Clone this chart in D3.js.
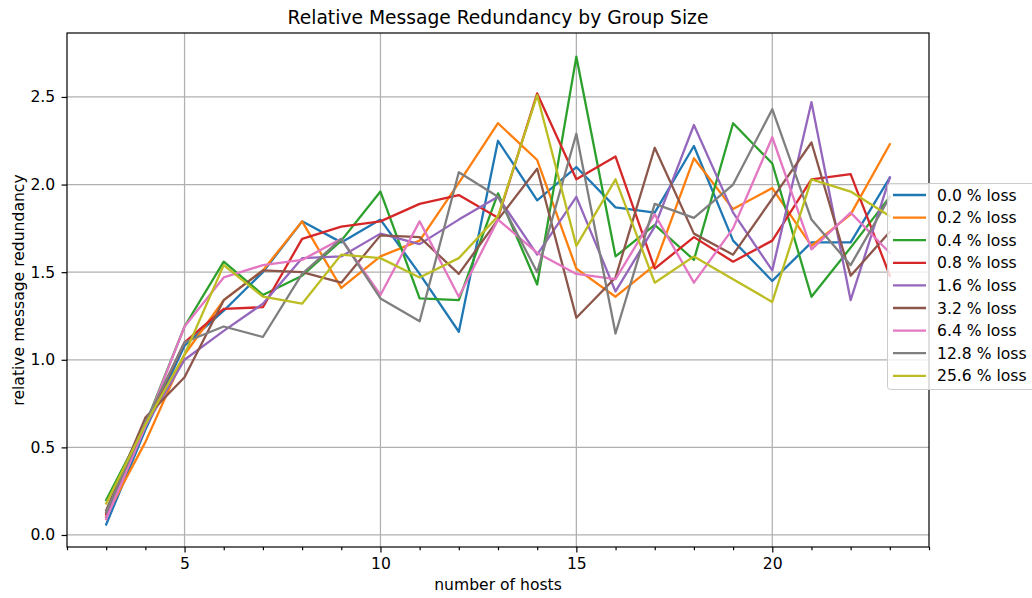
<!DOCTYPE html>
<html><head><meta charset="utf-8">
<script src="https://cdn.jsdelivr.net/npm/d3@7"></script>
<style>body{margin:0;background:#fff;} text{font-family:"DejaVu Sans",sans-serif;fill:#000;}</style>
</head><body>
<svg id="c" width="1032" height="598"></svg>
<script>
const hosts = [3,4,5,6,7,8,9,10,11,12,13,14,15,16,17,18,19,20,21,22,23];
const seriesNames = ["0.0 % loss","0.2 % loss","0.4 % loss","0.8 % loss","1.6 % loss","3.2 % loss","6.4 % loss","12.8 % loss","25.6 % loss"];
const colors = ["#1f77b4","#ff7f0e","#2ca02c","#d62728","#9467bd","#8c564b","#e377c2","#7f7f7f","#bcbd22"];
const loss00  = [0.06,0.60,1.08,1.28,1.50,1.79,1.67,1.80,1.49,1.16,2.25,1.91,2.10,1.87,1.84,2.22,1.68,1.45,1.67,1.67,2.04];
const loss02  = [0.11,0.53,1.03,1.34,1.51,1.79,1.41,1.59,1.68,2.01,2.35,2.14,1.52,1.36,1.54,2.15,1.86,1.98,1.65,1.83,2.23];
const loss04  = [0.20,0.63,1.19,1.56,1.37,1.48,1.68,1.96,1.35,1.34,1.95,1.43,2.73,1.59,1.77,1.57,2.35,2.12,1.36,1.64,1.93];
const loss08  = [0.12,0.63,1.10,1.29,1.30,1.69,1.76,1.79,1.89,1.94,1.81,2.52,2.03,2.16,1.52,1.70,1.56,1.68,2.03,2.06,1.48];
const loss16  = [0.10,0.62,1.00,1.165,1.32,1.58,1.59,1.72,1.66,1.80,1.93,1.60,1.93,1.39,1.76,2.34,1.84,1.51,2.47,1.34,2.04];
const loss32  = [0.14,0.67,0.90,1.34,1.51,1.50,1.44,1.71,1.70,1.49,1.80,2.09,1.24,1.47,2.21,1.72,1.60,1.92,2.24,1.48,1.73];
const loss64  = [0.09,0.62,1.19,1.47,1.54,1.57,1.69,1.37,1.79,1.36,1.80,1.61,1.49,1.46,1.83,1.44,1.75,2.27,1.63,1.84,1.61];
const loss128 = [0.13,0.64,1.10,1.19,1.13,1.49,1.69,1.35,1.22,2.07,1.93,1.50,2.29,1.15,1.89,1.81,2.00,2.43,1.80,1.54,1.93];
const loss256 = [0.18,0.63,1.03,1.54,1.36,1.32,1.60,1.58,1.47,1.58,1.82,2.51,1.65,2.03,1.44,1.59,1.46,1.33,2.03,1.96,1.82];
const seriesValues = [loss00,loss02,loss04,loss08,loss16,loss32,loss64,loss128,loss256];
const xMajorTicks = [5,10,15,20];
const xMinorTicks = [2,3,4,6,7,8,9,11,12,13,14,16,17,18,19,21,22,23,24];
const yTicks = [0,0.5,1.0,1.5,2.0,2.5];
const yTickLabels = ["0.0","0.5","1.0","1.5","2.0","2.5"];

const svg = d3.select("#c");
const L=67, R=929, T=33, B=547;
const x = d3.scaleLinear().domain([2,24]).range([L,R]);
const y = d3.scaleLinear().domain([-0.0685,2.865]).range([B,T]);
const FS = "15.6px";

// grid
const g = svg.append("g");
g.selectAll("line.gx").data(xMajorTicks).enter().append("line")
  .attr("x1",d=>x(d)).attr("x2",d=>x(d)).attr("y1",T).attr("y2",B)
  .attr("stroke","#b0b0b0").attr("stroke-width",1.25);
g.selectAll("line.gy").data(yTicks).enter().append("line")
  .attr("y1",d=>y(d)).attr("y2",d=>y(d)).attr("x1",L).attr("x2",R)
  .attr("stroke","#b0b0b0").attr("stroke-width",1.25);

// lines
const line = d3.line().x((d,i)=>x(hosts[i])).y(d=>y(d));
seriesValues.forEach((vals,k)=>{
  svg.append("path").datum(vals).attr("d",line)
    .attr("fill","none").attr("stroke",colors[k]).attr("stroke-width",2.3)
    .attr("stroke-linejoin","round").attr("stroke-linecap","square");
});

// frame
svg.append("rect").attr("x",L).attr("y",T).attr("width",R-L).attr("height",B-T)
  .attr("fill","none").attr("stroke","#000").attr("stroke-width",1.2);

// axes
const xAxis = d3.axisBottom(x).tickValues(xMajorTicks).tickFormat(d3.format("d")).tickSize(5.4).tickPadding(5.6);
svg.append("g").attr("transform",`translate(0,${B})`).call(xAxis);
const xAxisMinor = d3.axisBottom(x).tickValues(xMinorTicks).tickFormat("").tickSize(3.2);
svg.append("g").attr("transform",`translate(0,${B})`).call(xAxisMinor);
const yAxis = d3.axisLeft(y).tickValues(yTicks).tickFormat((d,i)=>yTickLabels[i]).tickSize(5.4).tickPadding(6.4);
svg.append("g").attr("transform",`translate(${L},0)`).call(yAxis);
svg.selectAll(".domain").remove();
svg.selectAll(".tick line").attr("stroke","#000").attr("stroke-width",1.2);
svg.selectAll(".tick text").style("font-size",FS).style("font-family","DejaVu Sans").attr("fill","#000");

// titles
svg.append("text").attr("x",(L+R)/2).attr("y",24).attr("text-anchor","middle")
  .style("font-size","18.7px").text("Relative Message Redundancy by Group Size");
svg.append("text").attr("x",(L+R)/2).attr("y",590).attr("text-anchor","middle")
  .style("font-size",FS).text("number of hosts");
svg.append("text").attr("transform",`translate(24,${(T+B)/2}) rotate(-90)`).attr("text-anchor","middle")
  .style("font-size",FS).text("relative message redundancy");

// legend
const lg = svg.append("g");
lg.append("rect").attr("x",887.5).attr("y",183.5).attr("width",152).attr("height",206).attr("rx",3)
  .attr("fill","#fff").attr("fill-opacity",0.8).attr("stroke","#cccccc").attr("stroke-width",1);
seriesNames.forEach((nm,k)=>{
  const cy = 195 + k*22.6;
  lg.append("line").attr("x1",893).attr("x2",926).attr("y1",cy).attr("y2",cy)
    .attr("stroke",colors[k]).attr("stroke-width",2.3);
  lg.append("text").attr("x",937).attr("y",cy+5.5).style("font-size",FS).text(nm);
});
</script>
</body></html>
